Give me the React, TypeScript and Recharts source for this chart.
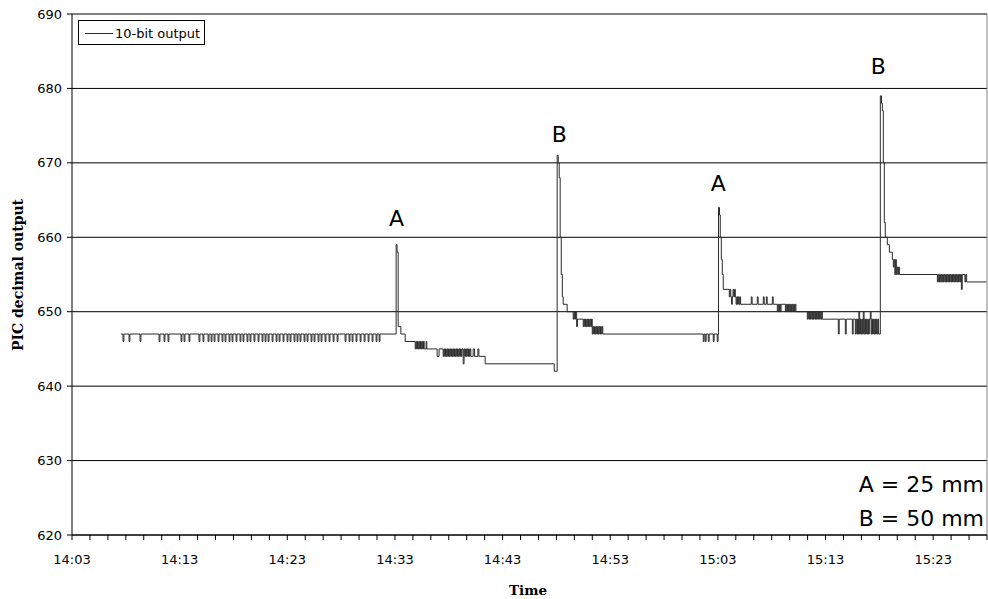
import {
  LineChart,
  Line,
  XAxis,
  YAxis,
  CartesianGrid,
  ReferenceLine,
  ReferenceDot,
} from "recharts";

// minutes after 14:03, PIC reading
const quietStart: [number, number][] = [
  [4.55, 647],
  [4.74, 646], [4.82, 647], [5.3, 646], [5.38, 647], [6.32, 646], [6.4, 647],
  [8.09, 646], [8.17, 647], [8.55, 646], [8.63, 647], [8.92, 646], [9.0, 647],
  [10.13, 646], [10.21, 647], [10.41, 646], [10.49, 647], [10.87, 646], [10.95, 647],
  [11.8, 646], [11.88, 647], [12.17, 646], [12.25, 647], [12.64, 646], [12.72, 647], [12.92, 646], [13.0, 647],
  [13.2, 646], [13.28, 647], [13.57, 646], [13.65, 647], [13.94, 646], [14.02, 647], [14.22, 646], [14.3, 647],
  [14.59, 646], [14.67, 647], [14.87, 646], [14.95, 647], [15.24, 646], [15.32, 647], [15.61, 646], [15.69, 647],
  [15.89, 646], [15.97, 647], [16.26, 646], [16.34, 647], [16.54, 646], [16.62, 647], [16.91, 646], [16.99, 647],
  [17.29, 646], [17.37, 647], [17.66, 646], [17.74, 647], [17.94, 646], [18.02, 647], [18.22, 646], [18.3, 647],
  [18.59, 646], [18.67, 647], [18.96, 646], [19.04, 647], [19.24, 646], [19.32, 647], [19.61, 646], [19.69, 647],
  [19.98, 646], [20.06, 647], [20.26, 646], [20.34, 647], [20.63, 646], [20.71, 647], [20.91, 646], [20.99, 647],
  [21.19, 646], [21.27, 647], [21.56, 646], [21.64, 647], [21.84, 646], [21.92, 647], [22.21, 646], [22.29, 647],
  [22.49, 646], [22.57, 647], [22.86, 646], [22.94, 647], [23.14, 646], [23.22, 647], [23.51, 646], [23.59, 647],
  [23.88, 646], [23.96, 647], [24.26, 646], [24.34, 647], [24.63, 646], [24.71, 647],
  [25.37, 646], [25.45, 647], [25.74, 646], [25.82, 647], [26.02, 646], [26.1, 647], [26.39, 646], [26.47, 647],
  [26.77, 646], [26.85, 647], [27.14, 646], [27.22, 647], [27.51, 646], [27.59, 647], [27.88, 646], [27.96, 647],
  [28.25, 646], [28.33, 647], [28.53, 646], [28.61, 647],
];

const peakA1: [number, number][] = [
  [30.11, 659], [30.2, 658], [30.3, 648], [30.55, 647], [30.95, 646],
  [31.88, 645], [31.95, 646], [32.02, 645], [32.09, 646], [32.16, 645], [32.23, 646], [32.3, 645], [32.37, 646],
  [32.44, 645], [32.51, 646], [32.58, 645], [32.65, 646], [32.72, 645], [32.9, 646], [32.96, 645],
  [33.92, 644], [34.1, 645],
  [34.48, 644], [34.55, 645], [34.62, 644], [34.69, 645], [34.76, 644], [34.83, 645], [34.9, 644], [34.97, 645],
  [35.04, 644], [35.11, 645], [35.18, 644], [35.25, 645], [35.32, 644], [35.39, 645], [35.46, 644], [35.53, 645],
  [35.6, 644], [35.67, 645], [35.74, 644], [35.81, 645], [35.88, 644], [35.95, 645], [36.02, 644], [36.09, 645],
  [36.16, 644], [36.23, 645], [36.34, 643], [36.42, 645], [36.49, 644], [36.56, 645], [36.63, 644], [36.7, 645],
  [36.77, 644], [36.84, 645], [36.91, 644], [36.98, 645], [37.05, 644],
  [37.27, 645], [37.4, 644], [37.7, 645], [37.8, 644],
  [38.38, 643],
  [44.8, 642],
];

const peakB1: [number, number][] = [
  [45.07, 671], [45.17, 670], [45.26, 668], [45.35, 660], [45.45, 655], [45.55, 652], [45.63, 651], [46.0, 650],
  [46.56, 649], [46.63, 650], [46.7, 649], [46.77, 650], [46.88, 648], [46.95, 649],
  [47.49, 648], [47.56, 649], [47.63, 648], [47.7, 649], [47.77, 648], [47.84, 649], [47.91, 648], [47.98, 649],
  [48.05, 648], [48.12, 649], [48.19, 648], [48.26, 649],
  [48.33, 647], [48.4, 648], [48.47, 647], [48.54, 648], [48.61, 647], [48.68, 648], [48.75, 647], [48.82, 648],
  [48.89, 647], [48.96, 648], [49.03, 647], [49.1, 648], [49.17, 647], [49.24, 648], [49.31, 647],
  [58.64, 646], [58.72, 647], [58.83, 646], [58.91, 647], [59.11, 646], [59.19, 647], [59.57, 646], [59.65, 647],
  [59.94, 646], [60.02, 647],
];

const peakA2: [number, number][] = [
  [60.06, 664], [60.15, 663], [60.22, 660], [60.32, 657], [60.41, 655], [60.5, 653],
  [61.06, 652], [61.13, 653], [61.2, 652], [61.27, 651], [61.34, 652], [61.41, 653], [61.48, 652], [61.55, 653],
  [61.62, 652], [61.69, 651], [61.76, 652], [61.83, 651], [61.9, 652], [61.97, 651], [62.04, 652], [62.11, 651],
  [63.1, 652], [63.18, 651], [63.66, 652], [63.74, 651], [64.22, 652], [64.3, 651], [64.5, 652], [64.58, 651],
  [65.06, 652], [65.14, 651],
  [65.52, 650], [65.59, 651], [65.66, 650], [65.73, 651], [65.8, 650], [65.87, 651],
  [66.27, 650], [66.34, 651], [66.41, 650], [66.48, 651], [66.55, 650], [66.62, 651], [66.69, 650], [66.76, 651],
  [66.83, 650], [66.9, 651], [66.97, 650], [67.04, 651], [67.11, 650], [67.18, 651], [67.25, 650],
  [68.31, 649], [68.38, 650], [68.45, 649], [68.52, 650], [68.59, 649], [68.66, 650], [68.73, 649], [68.8, 650],
  [68.87, 649], [68.94, 650], [69.01, 649], [69.08, 650], [69.15, 649], [69.22, 650], [69.29, 649], [69.36, 650],
  [69.43, 649], [69.5, 650], [69.57, 649], [69.64, 650], [69.7, 649],
  [71.19, 647], [71.27, 649], [71.84, 647], [71.92, 649], [72.49, 647], [72.57, 649],
  [72.77, 647], [72.84, 649], [72.91, 647], [72.98, 649], [73.05, 647], [73.1, 650], [73.17, 647], [73.24, 649],
  [73.31, 647], [73.38, 649], [73.45, 647], [73.51, 650], [73.58, 647], [73.65, 649], [73.72, 647], [73.79, 649],
  [73.86, 647], [73.93, 649], [74.0, 647], [74.07, 649], [74.16, 650], [74.23, 647], [74.3, 649], [74.37, 647],
  [74.44, 649], [74.51, 647], [74.58, 649], [74.65, 647], [74.72, 649], [74.79, 647], [74.86, 649], [74.93, 647],
];

const peakB2: [number, number][] = [
  [75.09, 679], [75.2, 678], [75.28, 677], [75.37, 670], [75.46, 662], [75.55, 660], [75.74, 659], [75.93, 658], [76.21, 657],
  [76.3, 656], [76.37, 657], [76.44, 655], [76.51, 657], [76.58, 655], [76.65, 656], [76.72, 655], [76.79, 656], [76.86, 655],
  [80.39, 654], [80.46, 655], [80.53, 654], [80.6, 655], [80.67, 654], [80.74, 655], [80.81, 654], [80.88, 655],
  [80.95, 654], [81.02, 655], [81.09, 654], [81.16, 655], [81.23, 654], [81.3, 655], [81.37, 654], [81.44, 655],
  [81.51, 654], [81.58, 655], [81.65, 654], [81.72, 655], [81.79, 654], [81.86, 655], [81.93, 654], [82.0, 655],
  [82.07, 654], [82.14, 655], [82.21, 654], [82.28, 655], [82.35, 654], [82.42, 655], [82.49, 654], [82.55, 655],
  [82.62, 653], [82.7, 655], [82.95, 654], [83.03, 655], [83.11, 654],
  [84.94, 654],
];

const timeLabels = ["14:03", "14:13", "14:23", "14:33", "14:43", "14:53", "15:03", "15:13", "15:23"];
const yTicks = [620, 630, 640, 650, 660, 670, 680, 690];

const peakNotes = [
  { t: 30.15, v: 662.6, text: "A" },
  { t: 45.26, v: 673.9, text: "B" },
  { t: 60.04, v: 667.3, text: "A" },
  { t: 74.9, v: 683.0, text: "B" },
];

const data = [...quietStart, ...peakA1, ...peakB1, ...peakA2, ...peakB2].map(([t, v]) => ({ t, v }));

// tick every 1 2/3 minute, label every 10 minutes
const xTicks = Array.from({ length: 52 }, (_, i) => (i * 10) / 6);

const sans = "'DejaVu Sans', sans-serif";
const serif = "'DejaVu Serif', serif";

export default function App() {
  return (
    <div style={{ position: "absolute", left: 0, top: 0, width: 988, height: 599, background: "#fff" }}>
      <LineChart width={988} height={599} data={data} margin={{ top: 14, right: 1, bottom: 0, left: 0 }}>
        <CartesianGrid horizontal vertical={false} stroke="#000" strokeWidth={1} />
        <XAxis
          dataKey="t"
          type="number"
          domain={[0, 85]}
          ticks={xTicks}
          interval={0}
          allowDataOverflow
          height={64}
          stroke="#000"
          tickSize={5}
          tickMargin={15}
          tick={{ fill: "#000", fontSize: 13, fontFamily: sans }}
          tickFormatter={(val: number) => {
            const i = Math.round((val * 6) / 10);
            return i % 6 === 0 ? timeLabels[i / 6] ?? "" : "";
          }}
        />
        <YAxis
          type="number"
          domain={[620, 690]}
          ticks={yTicks}
          interval={0}
          width={72}
          stroke="#000"
          tickSize={5}
          tickMargin={5}
          tick={{ fill: "#000", fontSize: 13, fontFamily: sans }}
        />
        <ReferenceLine x={85} stroke="#808080" />
        <Line
          type="stepAfter"
          dataKey="v"
          stroke="#2a2a2a"
          strokeWidth={1}
          dot={false}
          isAnimationActive={false}
        />
        {peakNotes.map((n, i) => (
          <ReferenceDot
            key={i}
            x={n.t}
            y={n.v}
            r={0}
            stroke="none"
            fill="none"
            label={{ value: n.text, position: "center", fill: "#000", fontSize: 22, fontFamily: sans }}
          />
        ))}
      </LineChart>
      <svg
        width={988}
        height={599}
        style={{ position: "absolute", left: 0, top: 0, pointerEvents: "none" }}
      >
        <rect x={78.5} y={20.5} width={126} height={24} fill="#fff" stroke="#000" />
        <line x1={85} x2={113} y1={33.5} y2={33.5} stroke="#2a2a2a" />
        <text x={115} y={38} fontSize={13} fontFamily={sans} fill="#000">10-bit output</text>
        <text
          transform="translate(23,275) rotate(-90)"
          textAnchor="middle"
          fontSize={14}
          fontWeight="bold"
          fontFamily={serif}
          fill="#000"
        >
          PIC decimal output
        </text>
        <text x={528} y={595} textAnchor="middle" fontSize={13.5} fontWeight="bold" fontFamily={serif} fill="#000">
          Time
        </text>
        <text x={984} y={492} textAnchor="end" fontSize={22} fontFamily={sans} fill="#000">A = 25 mm</text>
        <text x={984} y={526} textAnchor="end" fontSize={22} fontFamily={sans} fill="#000">B = 50 mm</text>
      </svg>
    </div>
  );
}
